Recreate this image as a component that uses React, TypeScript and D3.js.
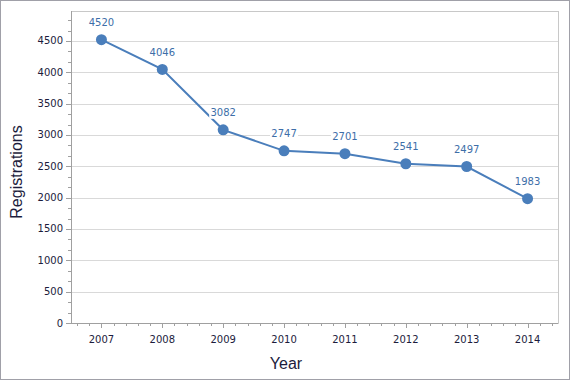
import React from "react";
import * as d3 from "d3";

const years = ["2007", "2008", "2009", "2010", "2011", "2012", "2013", "2014"];
const registrations = [4520, 4046, 3082, 2747, 2701, 2541, 2497, 1983];
const yTicks = [0, 500, 1000, 1500, 2000, 2500, 3000, 3500, 4000, 4500];

const W = 570;
const H = 380;
const left = 71;
const right = 558;
const top = 11;
const bottom = 323;

export default function App() {
  const x = d3.scaleBand<string>().domain(years).range([left, right]).padding(0);
  const cx = (d: string) => (x(d) as number) + x.bandwidth() / 2;
  const y = d3.scaleLinear().domain([0, 4978]).range([bottom, top]);

  const line = d3
    .line<number>()
    .x((_, i) => cx(years[i]))
    .y((d) => y(d));

  const minorY: number[] = [];
  for (let v = 0; v <= 4978; v += 500 / 3) minorY.push(v);

  const step = x.bandwidth() / 5;
  const minorX: number[] = [];
  for (let px = cx(years[0]); px >= left; px -= step) minorX.push(px);
  for (let px = cx(years[0]) + step; px <= right; px += step) minorX.push(px);

  const tickFont = "Tahoma, 'DejaVu Sans', Verdana, sans-serif";
  return (
    <svg
      width={W}
      height={H}
      style={{ position: "absolute", left: 0, top: 0, background: "#fff" }}
    >
      <rect x={0.5} y={0.5} width={W - 1} height={H - 1} fill="#fff" stroke="#a0a0a8" />
      {/* gridlines */}
      {yTicks.slice(1).map((t) => (
        <line key={t} x1={left} x2={right} y1={Math.round(y(t)) + 0.5} y2={Math.round(y(t)) + 0.5} stroke="#d9d9d9" />
      ))}
      {/* plot frame */}
      <line x1={left} x2={right + 0.5} y1={top + 0.5} y2={top + 0.5} stroke="#c8c8c8" />
      <line x1={right + 0.5} x2={right + 0.5} y1={top} y2={bottom} stroke="#c8c8c8" />
      {/* minor y ticks */}
      {minorY.map((v, i) => (
        <line key={i} x1={left - 3} x2={left} y1={Math.round(y(v)) + 0.5} y2={Math.round(y(v)) + 0.5} stroke="#a0a0a0" />
      ))}
      {yTicks.map((t) => (
        <line key={"m" + t} x1={left - 5} x2={left} y1={Math.round(y(t)) + 0.5} y2={Math.round(y(t)) + 0.5} stroke="#a0a0a0" />
      ))}
      {/* minor x ticks */}
      {minorX.map((px, i) => (
        <line key={i} x1={Math.round(px) + 0.5} x2={Math.round(px) + 0.5} y1={bottom} y2={bottom + 3} stroke="#a0a0a0" />
      ))}
      {years.map((yr) => (
        <line key={"mx" + yr} x1={Math.round(cx(yr)) + 0.5} x2={Math.round(cx(yr)) + 0.5} y1={bottom} y2={bottom + 5} stroke="#a0a0a0" />
      ))}
      {/* axes */}
      <line x1={left + 0.5} x2={left + 0.5} y1={top} y2={bottom} stroke="#a0a0a0" />
      <line x1={left} x2={right + 0.5} y1={bottom + 0.5} y2={bottom + 0.5} stroke="#a0a0a0" />
      {/* y labels */}
      {yTicks.map((t) => (
        <text key={"l" + t} x={left - 8} y={y(t)} dy="0.35em" textAnchor="end" fontFamily={tickFont} fontSize={10} fill="#1c1c3c">
          {t}
        </text>
      ))}
      {years.map((yr) => (
        <text key={"xl" + yr} x={cx(yr)} y={343} textAnchor="middle" fontFamily={tickFont} fontSize={10} fill="#1c1c3c">
          {yr}
        </text>
      ))}
      {/* titles */}
      <text x={22} y={(top + bottom) / 2 + 5} transform={`rotate(-90, 22, ${(top + bottom) / 2 + 5})`} textAnchor="middle" fontFamily="'Liberation Sans', Arial, sans-serif" fontSize={16} fill="#1c1c3c">
        Registrations
      </text>
      <text x={286} y={369} textAnchor="middle" fontFamily="'Liberation Sans', Arial, sans-serif" fontSize={16} fill="#1c1c3c">
        Year
      </text>
      {/* line */}
      <path d={line(registrations) as string} fill="none" stroke="#4a7ebb" strokeWidth={2} />
      {/* labels with white background */}
      {registrations.map((v, i) => (
        <g key={"dl" + i}>
          <rect x={cx(years[i]) - 14} y={y(v) - 24} width={28} height={13} fill="#fff" />
          <text x={cx(years[i])} y={y(v) - 13.5} textAnchor="middle" fontFamily={tickFont} fontSize={10} fill="#3d6ea8">
            {v}
          </text>
        </g>
      ))}
      {registrations.map((v, i) => (
        <circle key={"c" + i} cx={cx(years[i])} cy={y(v)} r={5.5} fill="#4a7ebb" />
      ))}
    </svg>
  );
}
